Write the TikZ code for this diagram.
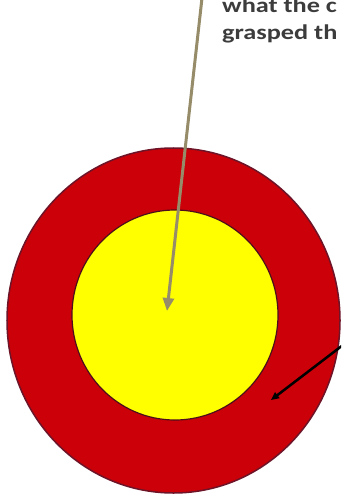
\documentclass[tikz,border=0pt]{standalone}
\usepackage{graphicx}
\usepackage{fontspec}
\setmainfont{Carlito}
\usetikzlibrary{arrows.meta,shapes.geometric}
\definecolor{ringred}{RGB}{204,0,8}
\definecolor{ringedge}{RGB}{110,20,40}
\definecolor{coreyellow}{RGB}{255,255,0}
\definecolor{pointer}{RGB}{150,140,105}
\definecolor{txtgray}{RGB}{60,60,60}
\newcommand{\widetxt}[1]{\scalebox{1.25}[1]{#1}}
\tikzset{
  ring/.style={ellipse, draw=ringedge, line width=1.5bp, fill=ringred, inner sep=0pt},
  core/.style={ellipse, draw=ringedge!70!black, line width=1.2bp, fill=coreyellow, inner sep=0pt},
  greyarrow/.style={draw=pointer, line width=3bp, -{Triangle[width=11bp,length=13bp]}},
  blackarrow/.style={draw=black, line width=2.5bp, -{Triangle[width=7bp,length=8bp]}},
  note/.style={anchor=base west, inner sep=0pt, text=txtgray, font=\bfseries\fontsize{21bp}{24bp}\selectfont}
}
\begin{document}
\begin{tikzpicture}[x=1bp,y=-1bp]
\useasboundingbox (0,0) rectangle (341,500);
\clip (0,0) rectangle (341,500);
\node[ring, minimum width=333bp, minimum height=345bp] (outer) at (173.5,320.5) {};
\node[core, minimum width=206bp, minimum height=210bp] (inner) at (175,315) {};
\coordinate (gtop) at (202,-2);
\coordinate (gtip) at (167,311);
\draw[greyarrow] (gtop) -- (gtip);
\coordinate (btop) at (343,345);
\coordinate (btip) at (271,400);
\draw[blackarrow] (btop) -- (btip);
\node[note] (l1) at (222,13) {\widetxt{what the c}};
\node[note] (l2) at (222,40) {\widetxt{grasped th}};
\end{tikzpicture}
\end{document}
